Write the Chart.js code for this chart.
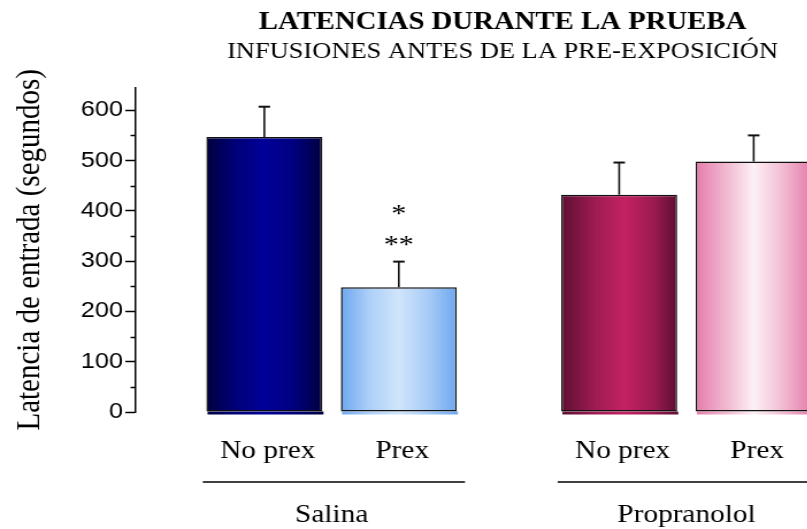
<!DOCTYPE html>
<html lang="es">
<head>
<meta charset="utf-8">
<title>Latencias durante la prueba</title>
<script src="https://cdn.jsdelivr.net/npm/chart.js@4.4.1/dist/chart.umd.min.js"></script>
<style>
  html, body { margin: 0; padding: 0; background: #fff; overflow: hidden; }
  /* the figure is drawn narrow and widened, like the original slide */
  #wrap { position: relative; width: 874px; height: 529px; transform: scaleX(1.15); transform-origin: 0 0; }
</style>
</head>
<body>
<div id="wrap"><canvas id="latencias"></canvas></div>
<script>
const groups = ['Salina', 'Propranolol']
const conditions = ['No prex', 'Prex']
const noPrex = [547, 432]
const prex = [248, 498]
const noPrexSem = [60, 64]
const prexSem = [51, 52]
const prexStars = [['*', '**'], []]
const yTicks = [0, 100, 200, 300, 400, 500, 600]
const yMinorTicks = [50, 150, 250, 350, 450, 550]

const SERIF = '"Liberation Serif", "Times New Roman", serif'
const SANS = '"Liberation Sans", Arial, sans-serif'

// horizontal shading stops for each bar, so they look like cylinders
const noPrexStops = [
  [[0, '#00003f'], [0.25, '#000078'], [0.5, '#00009a'], [0.75, '#000080'], [1, '#00003f']],
  [[0, '#5e0f33'], [0.3, '#a01c52'], [0.55, '#c42262'], [0.8, '#9a1b50'], [1, '#5e0f33']]
]
const prexStops = [
  [[0, '#6ea8ef'], [0.25, '#aed0f8'], [0.5, '#d0e5fb'], [0.75, '#a8ccf6'], [1, '#6ea8ef']],
  [[0, '#e57dac'], [0.28, '#f2bcd3'], [0.5, '#fdf1f6'], [0.72, '#f3c3d7'], [1, '#e57dac']]
]
const allStops = [noPrexStops, prexStops]

const toPoints = (vals) => vals.map((v, i) => ({ x: i, y: v }))

// swap each bar's fill for a gradient laid across its own width
const shading = {
  id: 'shading',
  beforeDatasetsDraw(chart) {
    const { ctx } = chart
    chart.data.datasets.forEach((ds, d) => {
      chart.getDatasetMeta(d).data.forEach((bar, i) => {
        const left = bar.x - bar.width / 2
        const g = ctx.createLinearGradient(left, 0, left + bar.width, 0)
        allStops[d][i].forEach(([at, col]) => g.addColorStop(at, col))
        bar.options = Object.assign({}, bar.options, { backgroundColor: g })
        // thin rim under the base, the old 3D look
        ctx.save()
        ctx.fillStyle = g
        ctx.fillRect(left + 1, bar.base, bar.width, 3)
        ctx.restore()
      })
    })
  }
}

// error whiskers, stars and the labels under the bars
const extras = {
  id: 'extras',
  afterDatasetsDraw(chart) {
    const { ctx, chartArea, scales: { x, y } } = chart
    const values = [noPrex, prex]
    const sems = [noPrexSem, prexSem]
    ctx.save()
    ctx.fillStyle = '#000'
    ctx.strokeStyle = '#111'
    ctx.textAlign = 'center'

    chart.data.datasets.forEach((ds, d) => {
      chart.getDatasetMeta(d).data.forEach((bar, i) => {
        const top = y.getPixelForValue(values[d][i] + sems[d][i])
        ctx.lineWidth = 1.6
        ctx.beginPath()
        ctx.moveTo(bar.x, bar.y)
        ctx.lineTo(bar.x, top)
        ctx.stroke()
        ctx.lineWidth = 2
        ctx.beginPath()
        ctx.moveTo(bar.x - 5, top)
        ctx.lineTo(bar.x + 5, top)
        ctx.stroke()

        if (d === 1) {
          ctx.font = '26px ' + SERIF
          const stars = prexStars[i]
          stars.forEach((s, k) => {
            ctx.fillText(s, bar.x, top - 9 - (stars.length - 1 - k) * 31)
          })
        }

        ctx.font = '25.5px ' + SERIF
        ctx.fillText(conditions[d], bar.x + 3, chartArea.bottom + 45.5)
      })
    })

    groups.forEach((g, i) => {
      const cx = x.getPixelForValue(i)
      ctx.lineWidth = 1.5
      ctx.strokeStyle = '#000'
      ctx.beginPath()
      ctx.moveTo(cx - 112, chartArea.bottom + 70)
      ctx.lineTo(cx + 116, chartArea.bottom + 70)
      ctx.stroke()
      ctx.font = '25.5px ' + SERIF
      ctx.fillText(g, cx, chartArea.bottom + 110)
    })

    // short minor ticks between the labelled ones
    ctx.lineWidth = 1.5
    yMinorTicks.forEach((v) => {
      const py = Math.round(y.getPixelForValue(v)) + 0.5
      ctx.beginPath()
      ctx.moveTo(chartArea.left - 4.5, py)
      ctx.lineTo(chartArea.left, py)
      ctx.stroke()
    })
    ctx.restore()
  }
}

new Chart(document.getElementById('latencias'), {
  type: 'bar',
  data: {
    datasets: [
      {
        label: conditions[0],
        data: toPoints(noPrex),
        backgroundColor: ['#00009a', '#c42262'],
        borderColor: '#111',
        borderWidth: 1.5,
        borderSkipped: false
      },
      {
        label: conditions[1],
        data: toPoints(prex),
        backgroundColor: ['#d0e5fb', '#fdf1f6'],
        borderColor: '#111',
        borderWidth: 1.5,
        borderSkipped: false
      }
    ]
  },
  options: {
    responsive: true,
    maintainAspectRatio: false,
    animation: false,
    categoryPercentage: 0.758,
    barPercentage: 0.862,
    layout: { padding: { top: 0, right: 0, bottom: 117, left: 0 } },
    plugins: {
      legend: { display: false },
      tooltip: { enabled: false },
      title: {
        display: true,
        text: 'LATENCIAS DURANTE LA PRUEBA',
        color: '#000',
        font: { family: SERIF, size: 25, weight: 'bold' },
        padding: { top: 7.5, bottom: 0 }
      },
      subtitle: {
        display: true,
        text: 'INFUSIONES ANTES DE LA PRE-EXPOSICIÓN',
        color: '#000',
        font: { family: SERIF, size: 23 },
        padding: { top: 1, bottom: 21.5 }
      }
    },
    scales: {
      x: {
        type: 'linear',
        display: false,
        offset: false,
        min: -0.552,
        max: 1.898,
        afterBuildTicks: (axis) => { axis.ticks = groups.map((g, i) => ({ value: i })) }
      },
      y: {
        min: 0,
        max: 645,
        afterBuildTicks: (axis) => { axis.ticks = yTicks.map(v => ({ value: v })) },
        afterFit: (axis) => { axis.width = 118 },
        border: { display: true, color: '#000', width: 1.5 },
        grid: { display: true, drawOnChartArea: false, drawTicks: true, tickLength: 9, tickColor: '#000', tickWidth: 1.5 },
        ticks: { color: '#000', padding: 2, font: { family: SANS, size: 22 } },
        title: {
          display: true,
          text: 'Latencia de entrada (segundos)',
          color: '#000',
          font: { family: SERIF, size: 29 },
          padding: { top: 8.5, bottom: 0 }
        }
      }
    }
  },
  plugins: [shading, extras]
})
</script>
</body>
</html>
